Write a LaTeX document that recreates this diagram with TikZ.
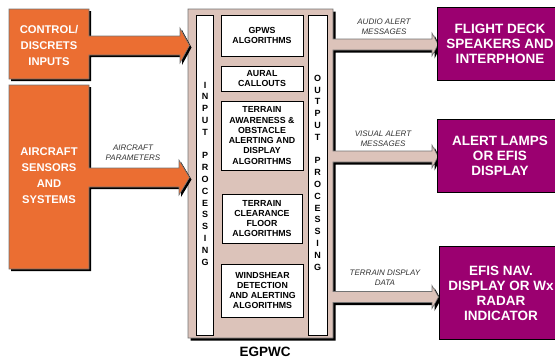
\documentclass[tikz,border=0pt]{standalone}
\usepackage{fontspec}
\setmainfont{Liberation Sans}
\definecolor{egorange}{RGB}{235,110,50}
\definecolor{egpink}{RGB}{220,195,186}
\definecolor{egpurple}{RGB}{155,0,112}
\definecolor{eglabel}{RGB}{50,50,50}
\newcommand\EgOutline{(188,9) -- (333,9) -- (333,39) -- (432,39) -- (432,33) -- (438,44.5) -- (432,56) -- (432,50) -- (333,50) -- (333,151) -- (432,151) -- (432,145) -- (438,156.5) -- (432,168) -- (432,162) -- (333,162) -- (333,291.5) -- (432,291.5) -- (432,285.5) -- (438.5,297) -- (432,308.5) -- (432,302.5) -- (333,302.5) -- (333,338) -- (188,338) -- cycle}
\newcommand\EgOrangeA{(9,9) -- (89,9) -- (89,36) -- (180,36) -- (180,28) -- (189.5,45.5) -- (180,63) -- (180,55) -- (89,55) -- (89,79) -- (9,79) -- cycle}
\newcommand\EgOrangeB{(9,85) -- (89,85) -- (89,168) -- (179,168) -- (179,160) -- (189.5,177.5) -- (179,195) -- (179,187) -- (89,187) -- (89,269) -- (9,269) -- cycle}
\begin{document}
\begin{tikzpicture}[x=1pt,y=-1pt,
  pinkshape/.style={fill=egpink, draw=black!55, line width=0.6pt},
  orangeshape/.style={fill=egorange, draw=black!55, line width=0.6pt},
  shadowshape/.style={fill=black},
  algobox/.style={draw=black, line width=0.8pt, fill=white, align=center, inner sep=0pt,
    font=\fontsize{8.8}{10.3}\selectfont\bfseries},
  colbox/.style={draw=black, line width=0.8pt, fill=white, inner sep=0pt},
  colletters/.style={align=center, inner sep=0pt, font=\fontsize{9}{11.8}\selectfont\bfseries},
  purplebox/.style={draw=black, line width=0.9pt, fill=egpurple, text=white, align=center,
    inner sep=0pt, font=\fontsize{13.5}{15}\selectfont\bfseries},
  orangetext/.style={text=white, align=center, inner sep=0pt, font=\fontsize{11.2}{16}\selectfont\bfseries},
  msg/.style={text=eglabel, align=center, inner sep=0pt, font=\fontsize{8}{10}\selectfont\itshape}
]
\useasboundingbox (0,0) rectangle (555,359);
\clip (0,0) rectangle (555,359);

% EGPWC container with output block arrows
\fill[shadowshape, shift={(2.5,2.5)}] \EgOutline;
\draw[pinkshape] \EgOutline;

% input / output processing columns
\node[colbox, minimum width=17, minimum height=320] (incol) at (205,175) {};
\node[colbox, minimum width=19, minimum height=320] (outcol) at (317.5,175) {};
\node[colletters] (inlbl) at (incol.center |- 0,173.5) {I\\N\\P\\U\\T\\[11.8pt]P\\R\\O\\C\\E\\S\\S\\I\\N\\G};
\node[colletters] (outlbl) at (outcol.center |- 0,172.5) {O\\U\\T\\P\\U\\T\\[11.8pt]P\\R\\O\\C\\E\\S\\S\\I\\N\\G};

% algorithm boxes
\node[algobox, minimum width=82, minimum height=41] (gpws) at (262,35.5) {GPWS\\ALGORITHMS};
\node[algobox, minimum width=82, minimum height=25] (aural) at (262,78.5) {AURAL\\CALLOUTS};
\node[algobox, minimum width=82, minimum height=69] (taw) at (262,135.5) {TERRAIN\\AWARENESS \&\\OBSTACLE\\ALERTING AND\\DISPLAY\\ALGORITHMS};
\node[algobox, minimum width=80, minimum height=49] (tcf) at (262,218.5) {TERRAIN\\CLEARANCE\\FLOOR\\ALGORITHMS};
\node[algobox, minimum width=82, minimum height=53] (wind) at (262.5,290.5) {WINDSHEAR\\DETECTION\\AND ALERTING\\ALGORITHMS};

\node[inner sep=0pt, font=\fontsize{13.5}{15}\selectfont\bfseries] (egpwc) at (265,352) {EGPWC};

% orange input blocks
\fill[shadowshape, shift={(2,2)}] \EgOrangeA;
\draw[orangeshape] \EgOrangeA;
\fill[shadowshape, shift={(2,2)}] \EgOrangeB;
\draw[orangeshape] \EgOrangeB;
\node[orangetext] (ctrl) at (49,45) {CONTROL/\\DISCRETS\\INPUTS};
\node[orangetext] (sens) at (49,175.5) {AIRCRAFT\\SENSORS\\AND\\SYSTEMS};

% message labels
\node[msg] (lblpar) at (133,153) {AIRCRAFT\\PARAMETERS};
\node[msg] (lblaud) at (384,26.7) {AUDIO ALERT\\MESSAGES};
\node[msg] (lblvis) at (383,138.3) {VISUAL ALERT\\MESSAGES};
\node[msg] (lblter) at (385,278) {TERRAIN DISPLAY\\DATA};

% purple output devices
\node[purplebox, minimum width=126, minimum height=72.7] (fdeck) at (500,43.7) {FLIGHT DECK\\SPEAKERS AND\\INTERPHONE};
\node[purplebox, minimum width=126, minimum height=73.4] (lamps) at (500,156) {ALERT LAMPS\\OR EFIS\\DISPLAY};
\node[purplebox, minimum width=124, minimum height=92.6] (efis) at (501,293) {EFIS NAV.\\DISPLAY OR Wx\\RADAR\\INDICATOR};
\end{tikzpicture}
\end{document}
